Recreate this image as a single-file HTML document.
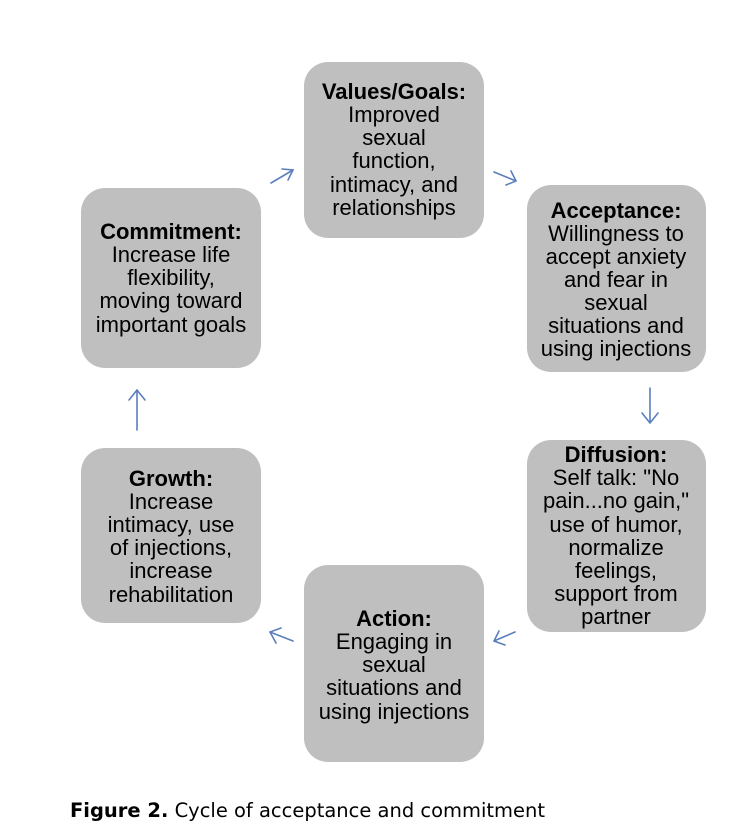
<!DOCTYPE html>
<html><head><meta charset="utf-8"><style>
body{margin:0;background:#fff;width:730px;height:838px;overflow:hidden}
svg{display:block}
text{font-family:"Liberation Sans",Arial,sans-serif;font-size:22px;fill:#000;text-anchor:middle}
.b{font-weight:bold}
</style></head><body>
<svg width="730" height="838" viewBox="0 0 730 838">
<g fill="#bfbfbf">
<rect x="304" y="62" width="180" height="176" rx="24"/>
<rect x="527" y="185" width="179" height="187" rx="24"/>
<rect x="527" y="440" width="179" height="192" rx="24"/>
<rect x="304" y="565" width="180" height="197" rx="24"/>
<rect x="81" y="448" width="180" height="175" rx="24"/>
<rect x="81" y="188" width="180" height="180" rx="24"/>
</g>
<g stroke="#5b7fbd" stroke-width="1.6" fill="none" stroke-linecap="round">
<path d="M271 183 L293 170 M282 169 L293 170 L288 180"/>
<path d="M494 172 L516 181 M506 185 L516 181 L511 171"/>
<path d="M650 388 L650 423 M642 413 L650 423 L658 413"/>
<path d="M515 632 L494 641 M499 631 L494 641 L505 645"/>
<path d="M293 641 L270 632 M281 628 L270 632 L276 643"/>
<path d="M137 430 L137 390 M129 400 L137 390 L145 400"/>
</g>
<text x="394" y="99" class="b">Values/Goals:</text>
<text x="394" y="122">Improved</text>
<text x="394" y="145">sexual</text>
<text x="394" y="168">function,</text>
<text x="394" y="192">intimacy, and</text>
<text x="394" y="215">relationships</text>

<text x="616" y="218" class="b">Acceptance:</text>
<text x="616" y="241">Willingness to</text>
<text x="616" y="264">accept anxiety</text>
<text x="616" y="287">and fear in</text>
<text x="616" y="310">sexual</text>
<text x="616" y="333">situations and</text>
<text x="616" y="356">using injections</text>

<text x="616" y="462" class="b">Diffusion:</text>
<text x="616" y="485">Self talk: "No</text>
<text x="616" y="508">pain...no gain,"</text>
<text x="616" y="532">use of humor,</text>
<text x="616" y="555">normalize</text>
<text x="616" y="578">feelings,</text>
<text x="616" y="601">support from</text>
<text x="616" y="624">partner</text>

<text x="394" y="626" class="b">Action:</text>
<text x="394" y="649">Engaging in</text>
<text x="394" y="672">sexual</text>
<text x="394" y="695">situations and</text>
<text x="394" y="719">using injections</text>

<text x="171" y="486" class="b">Growth:</text>
<text x="171" y="509">Increase</text>
<text x="171" y="532">intimacy, use</text>
<text x="171" y="555">of injections,</text>
<text x="171" y="578">increase</text>
<text x="171" y="602">rehabilitation</text>

<text x="171" y="239" class="b">Commitment:</text>
<text x="171" y="262">Increase life</text>
<text x="171" y="285">flexibility,</text>
<text x="171" y="308">moving toward</text>
<text x="171" y="332">important goals</text>

<text x="70" y="817" textLength="475" lengthAdjust="spacingAndGlyphs" style="text-anchor:start;font-family:'DejaVu Sans','Liberation Sans',sans-serif;font-size:19.5px"><tspan font-weight="bold">Figure 2.</tspan> Cycle of acceptance and commitment</text>
</svg>
</body></html>
